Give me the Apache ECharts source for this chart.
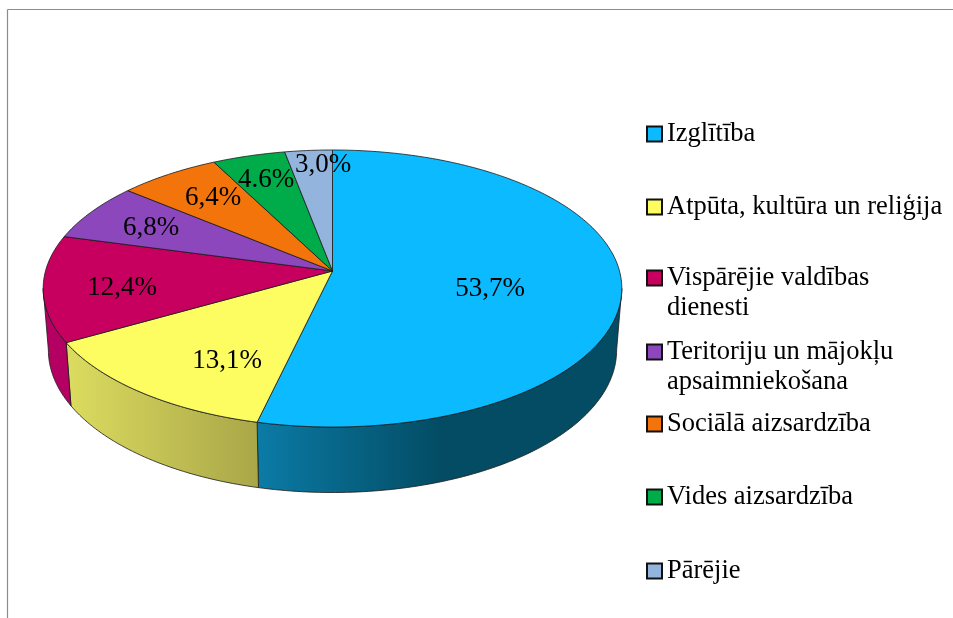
<!DOCTYPE html>
<html>
<head>
<meta charset="utf-8">
<style>html,body{margin:0;padding:0;background:#fff}#chart{width:953px;height:618px}</style>
<script src="https://cdn.jsdelivr.net/npm/echarts@6/dist/echarts.min.js"></script>
</head>
<body>
<div id="chart"></div>
<script>
// Dati
var categories = ['Izglītība', 'Atpūta, kultūra un reliģija', 'Vispārējie valdības dienesti',
    'Teritoriju un mājokļu apsaimniekošana', 'Sociālā aizsardzība', 'Vides aizsardzība', 'Pārējie'];
var legendLines = [['Izglītība'], ['Atpūta, kultūra un reliģija'], ['Vispārējie valdības', 'dienesti'],
    ['Teritoriju un mājokļu', 'apsaimniekošana'], ['Sociālā aizsardzība'], ['Vides aizsardzība'], ['Pārējie']];
var values = [53.7, 13.1, 12.4, 6.8, 6.4, 4.6, 3.0];
var valueLabels = ['53,7%', '13,1%', '12,4%', '6,8%', '6,4%', '4.6%', '3,0%'];
var colors = ['#0cbaff', '#fdfd62', '#c7005f', '#8c47bd', '#f2740a', '#00ab4a', '#93b5dd'];

// Izkārtojums
var labelCenters = [[490, 289], [227, 361], [122, 288], [151, 228], [213, 198], [266, 180], [323, 165]];
var legendCenters = [134, 207, 278, 352, 424, 497, 571];
var wallColors = [
    [[0, '#0b7ba6'], [0.5, '#034c64'], [1, '#034c64']],
    [[0, '#dcdc60'], [1, '#a9a648']],
    [[0, '#b40063'], [1, '#b40063']]
];
var FONT = '"Liberation Serif", "Times New Roman", serif';
var CX = 332.5, CY = 271, RX = 287, RY = 136.3, PERSP = 0.1264;
var DEPTH_SIDE = 61, DEPTH_FRONT = 65.5, BOTTOM_SCALE = 0.982;
var STROKE = '#1a1a1a';

// leņķis grādos pulksteņrādītāja virzienā no augšas -> ekrāna punkts
function project(deg, bottom) {
    var a = deg * Math.PI / 180;
    var X = Math.sin(a), Y = Math.cos(a);
    var w = 1 + PERSP * Y;
    var depth = bottom ? DEPTH_SIDE + (DEPTH_FRONT - DEPTH_SIDE) * Math.max(0, -Y) : 0;
    return [CX + RX * (bottom ? BOTTOM_SCALE : 1) * X / w, CY - RY * Y / w + depth];
}

function arcPoints(from, to, bottom) {
    var pts = [];
    var n = Math.max(2, Math.ceil(Math.abs(to - from)));
    for (var i = 0; i <= n; i++) {
        pts.push(project(from + (to - from) * i / n, bottom));
    }
    return pts;
}

function renderSlice(params, api) {
    var start = api.value(0) * 3.6;
    var end = start + api.value(1) * 3.6;
    var idx = params.seriesIndex;
    var children = [];

    // sānu siena redzama tikai priekšējā pusē
    var edge = Math.acos(-PERSP) * 180 / Math.PI;
    var a = Math.max(start, edge), b = Math.min(end, 360 - edge);
    if (a < b) {
        var stops = wallColors[idx].map(function (s) { return { offset: s[0], color: s[1] }; });
        var top = arcPoints(a, b, false);
        var bottom = arcPoints(a, b, true);
        children.push({
            type: 'polygon',
            shape: { points: top.concat(bottom.reverse()) },
            style: {
                fill: new echarts.graphic.LinearGradient(0, 0, 1, 0, stops),
                stroke: STROKE, lineWidth: 0.8
            }
        });
    }
    children.push({
        type: 'polygon',
        shape: { points: [[CX, CY]].concat(arcPoints(start, end, false)) },
        style: { fill: colors[idx], stroke: STROKE, lineWidth: 0.8 }
    });
    return { type: 'group', children: children };
}

function renderLabel(params, api) {
    var c = labelCenters[params.dataIndex];
    return {
        type: 'text',
        style: {
            x: c[0], y: c[1], text: valueLabels[params.dataIndex],
            fill: '#000', font: '27px ' + FONT, textAlign: 'center', textVerticalAlign: 'middle'
        }
    };
}

var chart = echarts.init(document.getElementById('chart'));

var cumulative = 0;
var series = categories.map(function (name, i) {
    var item = [cumulative, values[i]];
    cumulative += values[i];
    return {
        name: name, type: 'custom', coordinateSystem: 'none', silent: true, z: 2,
        renderItem: renderSlice, data: [item], itemStyle: { color: colors[i] }
    };
});
series.push({
    type: 'custom', coordinateSystem: 'none', silent: true, z: 3,
    renderItem: renderLabel, data: values
});

var legends = categories.map(function (name, i) {
    var lines = legendLines[i];
    var two = lines.length > 1;
    return {
        left: 646,
        top: legendCenters[i] - (two ? 45 : 15),
        orient: 'vertical',
        selectedMode: false,
        itemWidth: 15,
        itemHeight: 15,
        padding: 0,
        data: [{ name: name, icon: 'rect', itemStyle: { color: colors[i], borderColor: '#111', borderWidth: 2 } }],
        // tukšā rinda notur ikonu pret pirmo teksta rindu
        formatter: function () { return two ? '\u00a0\n' + lines.join('\n') : lines[0]; },
        textStyle: { color: '#000', fontFamily: FONT, fontSize: 26.5, lineHeight: 30 }
    };
});

var option = {
    animation: false,
    backgroundColor: '#fff',
    legend: legends,
    graphic: [
        { type: 'line', silent: true, shape: { x1: 7.5, y1: 9.5, x2: 953, y2: 9.5 }, style: { stroke: '#8c8c8c', lineWidth: 1.2 } },
        { type: 'line', silent: true, shape: { x1: 7.5, y1: 9.5, x2: 7.5, y2: 618 }, style: { stroke: '#8c8c8c', lineWidth: 1.2 } }
    ],
    series: series
};

option && chart.setOption(option);
window.addEventListener('resize', chart.resize);
</script>
</body>
</html>
